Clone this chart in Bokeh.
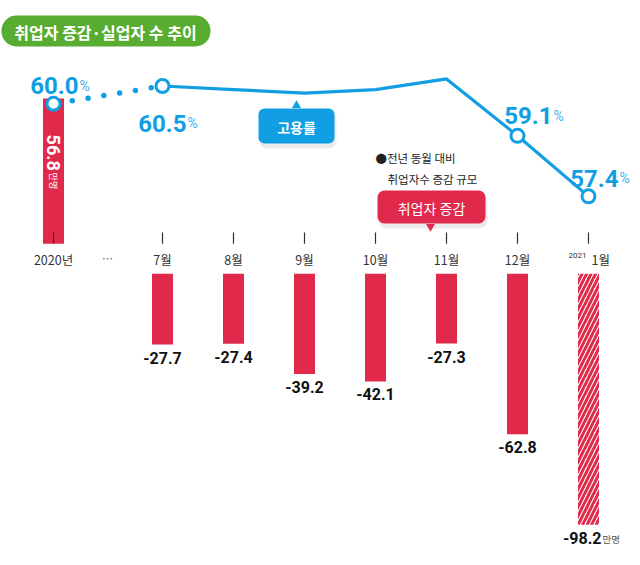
import math
from bokeh.plotting import figure
from bokeh.models import Range1d
from bokeh.core.properties import value
from bokeh.embed import file_html
from bokeh.resources import INLINE

# ---------------- data ----------------
title_text = "취업자 증감·실업자 수 추이"
categories = ["2020년", "7월", "8월", "9월", "10월", "11월", "12월", "1월"]
year_note = "2021"
ellipsis_text = "…"
rate = [60.0, 60.5, 60.4, 60.3, 60.4, 60.7, 59.1, 57.4]        # 고용률 (%)
change = [56.8, -27.7, -27.4, -39.2, -42.1, -27.3, -62.8, -98.2]  # 취업자 증감 (만명)
labelled_rate_idx = [0, 1, 6, 7]
legend_rate = "고용률"
legend_change = "취업자 증감"
note_lines = ["●전년 동월 대비", "취업자수 증감 규모"]
unit_rate = "%"
unit_change = "만명"

# ---------------- layout ----------------
W, H = 640, 565
X0_PX, X_STEP = 162.0, 71.0
xpos = [-1.535, 0, 1, 2, 3, 4, 5, 6]
ellipsis_x = -0.775
PXU = 2.556
BASE_PX = 243.3
GAP = 30 / PXU
R_PX = 35.6
R_ANCHOR, R_ANCHOR_PX = 60.5, 85.5

RED = "#e12a4b"
BLUE = "#119ee2"
GREEN = "#58ad31"
KR = value("Noto Sans CJK KR")
NUM = value("Roboto")

def px_x(px):
    return (px - X0_PX) / X_STEP

def px_y(py):
    return (BASE_PX - py) / PXU

p = figure(width=W, height=H, output_backend="svg", toolbar_location=None,
           x_range=Range1d(px_x(0), px_x(W)),
           y_range=Range1d(px_y(H), px_y(0)),
           x_axis_location=None, y_axis_location=None, min_border=0)
p.extra_y_ranges = {"rate": Range1d(R_ANCHOR - (H - R_ANCHOR_PX) / R_PX,
                                    R_ANCHOR + R_ANCHOR_PX / R_PX)}
p.grid.visible = False
p.outline_line_color = None
p.background_fill_color = "white"

bw = 21 / X_STEP

# ---- title pill ----
p.quad(left=[px_x(1)], right=[px_x(210)], top=[px_y(15)], bottom=[px_y(46)],
       fill_color=GREEN, line_color=None, border_radius=15)
p.text(x=[px_x(105)], y=[px_y(31)], text=[title_text], text_font=KR,
       text_font_style="bold", text_font_size="16px", text_color="white",
       text_align="center", text_baseline="middle")

# ---- bars ----
p.vbar(x=[xpos[0]], bottom=[0], top=[change[0]], width=bw,
       fill_color=RED, line_color=None)
neg_x = xpos[1:-1]
neg_v = change[1:-1]
p.vbar(x=neg_x, top=[-GAP] * len(neg_v), bottom=[-GAP + v for v in neg_v],
       width=bw, fill_color=RED, line_color=None)
p.vbar(x=[xpos[-1]], top=[-GAP], bottom=[-GAP + change[-1]], width=bw,
       fill_color="white", line_color=None, hatch_pattern="right_diagonal_line",
       hatch_color=RED, hatch_scale=9, hatch_weight=3)

# ---- ticks and category labels ----
tick_x = xpos
p.segment(x0=tick_x, x1=tick_x, y0=[0] * len(tick_x), y1=[px_y(232)] * len(tick_x),
          line_color="#333333", line_width=1.2)
p.text(x=xpos[:-1], y=[px_y(259)] * (len(xpos) - 1), text=categories[:-1],
       text_font=KR, text_font_size="12.5px", text_color="#333333",
       text_align="center", text_baseline="middle")
p.text(x=[xpos[-1]], y=[px_y(259)], text=[categories[-1]], x_offset=3,
       text_font=KR, text_font_size="12.5px", text_color="#333333",
       text_align="left", text_baseline="middle")
p.text(x=[xpos[-1]], y=[px_y(259)], text=[year_note], x_offset=-2, y_offset=-4,
       text_font=value("Roboto"), text_font_size="8px", text_color="#333333",
       text_align="right", text_baseline="middle")
p.text(x=[ellipsis_x], y=[px_y(257)], text=[ellipsis_text], text_font=KR,
       text_font_size="11px", text_color="#555555",
       text_align="center", text_baseline="middle")

# ---- bar value labels ----
p.text(x=neg_x, y=[-GAP + v for v in neg_v], text=[f"{v:.1f}" for v in neg_v],
       y_offset=13, text_font=NUM, text_font_style="bold", text_font_size="16px",
       text_color="#111111", text_align="center", text_baseline="middle")
p.text(x=[xpos[-1]], y=[-GAP + change[-1]], text=[f"{change[-1]:.1f}"],
       x_offset=13, y_offset=13, text_font=NUM, text_font_style="bold",
       text_font_size="16px", text_color="#111111", text_align="right",
       text_baseline="middle")
p.text(x=[xpos[-1]], y=[-GAP + change[-1]], text=[unit_change],
       x_offset=14, y_offset=14, text_font=KR, text_font_size="9.5px",
       text_color="#555555", text_align="left", text_baseline="middle")
# rotated label in the 2020 bar
p.text(x=[xpos[0]], y=[change[0]], text=[f"{change[0]:.1f}"], y_offset=36,
       angle=-math.pi / 2, text_font=NUM, text_font_style="bold",
       text_font_size="18px", text_color="white", text_align="left",
       text_baseline="middle")
p.text(x=[xpos[0]], y=[change[0]], text=[unit_change], y_offset=74,
       angle=-math.pi / 2, text_font=KR, text_font_size="9px",
       text_color="white", text_align="left", text_baseline="middle")

# ---- employment-rate line ----
p.line(x=xpos[:2], y=rate[:2], y_range_name="rate", line_color=BLUE,
       line_width=5.5, line_dash="0 16", line_cap="round", line_dash_offset=-3)
p.line(x=xpos[1:], y=rate[1:], y_range_name="rate", line_color=BLUE,
       line_width=3.2, line_join="round")
mx = [xpos[i] for i in labelled_rate_idx]
my = [rate[i] for i in labelled_rate_idx]
p.scatter(x=mx, y=my, y_range_name="rate", size=13, fill_color="white",
          line_color=BLUE, line_width=3)

num_dx = [25, 24, 35, 30]
num_dy = [-18, 37, -20, -18]
p.text(x=mx, y=my, y_range_name="rate", text=[f"{v:.1f}" for v in my],
       x_offset=num_dx, y_offset=num_dy, text_font=NUM, text_font_style="bold",
       text_font_size="24px", text_color=BLUE, text_align="right",
       text_baseline="alphabetic")
p.text(x=mx, y=my, y_range_name="rate", text=[unit_rate] * len(mx),
       x_offset=[d + 1 for d in num_dx], y_offset=num_dy,
       text_font=value("Roboto"), text_font_size="14px", text_color="#3fb0ea",
       text_align="left", text_baseline="alphabetic")

# ---- callouts ----
p.quad(left=[px_x(259), px_x(378)], right=[px_x(336), px_x(487)],
       top=[px_y(111), px_y(193)], bottom=[px_y(148), px_y(228)],
       fill_color="#000000", fill_alpha=0.08, line_color=None, border_radius=8)
p.quad(left=[px_x(258)], right=[px_x(334)], top=[px_y(108)], bottom=[px_y(143)],
       fill_color=BLUE, line_color=None, border_radius=6)
p.scatter(x=[px_x(296)], y=[px_y(105)], marker="triangle", size=9,
          fill_color=BLUE, line_color=None)
p.text(x=[px_x(296)], y=[px_y(126)], text=[legend_rate], text_font=KR,
       text_font_style="bold", text_font_size="14px", text_color="white",
       text_align="center", text_baseline="middle")

p.quad(left=[px_x(377)], right=[px_x(485)], top=[px_y(190)], bottom=[px_y(223)],
       fill_color=RED, line_color=None, border_radius=7)
p.scatter(x=[px_x(430)], y=[px_y(226)], marker="inverted_triangle", size=9,
          fill_color=RED, line_color=None)
p.text(x=[px_x(431)], y=[px_y(207)], text=[legend_change], text_font=KR,
       text_font_size="14px", text_color="white",
       text_align="center", text_baseline="middle")

p.text(x=[px_x(375), px_x(387)], y=[px_y(157), px_y(178)], text=note_lines,
       text_font=KR, text_font_size="11.5px", text_color="#222222",
       text_align="left", text_baseline="middle")

open("out.html", "w").write(file_html(p, INLINE))
